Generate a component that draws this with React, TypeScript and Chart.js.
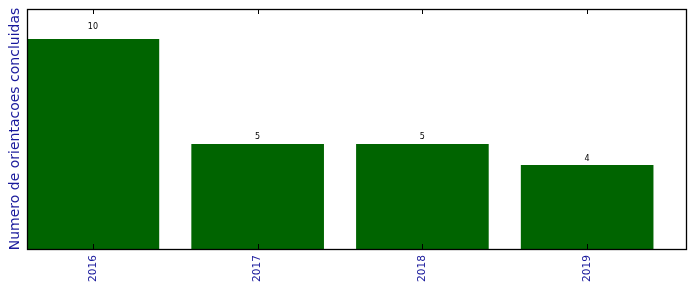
import { useEffect, useRef } from "react";
import { Chart, registerables } from "chart.js";

Chart.register(...registerables);

const years = ["2016", "2017", "2018", "2019"];
const counts = [10, 5, 5, 4];
const yAxisTitle = "Numero de orientacoes concluidas";
const yMax = 11.43;
const xMin = -0.4;
const xMax = 3.6;

const barGreen = "#006400";
const labelBlue = "#1a1a9c";
const fontFamily = "'DejaVu Sans', sans-serif";

export default function App() {
  const ref = useRef<HTMLCanvasElement>(null);

  useEffect(() => {
    if (!ref.current) return;

    const framePlugin = {
      id: "frame",
      afterDatasetsDraw(chart: any) {
        const { ctx, chartArea: a, scales } = chart;
        ctx.save();
        // value labels
        const meta = chart.getDatasetMeta(0);
        ctx.font = `8px ${fontFamily}`;
        ctx.fillStyle = "#000";
        ctx.textAlign = "center";
        ctx.textBaseline = "bottom";
        meta.data.forEach((bar: any, i: number) => {
          const y = scales.y.getPixelForValue(counts[i] * 1.05);
          ctx.fillText(String(counts[i]), bar.x, y + 2.5);
        });
        // inward tick marks at top and bottom
        ctx.strokeStyle = "#000";
        ctx.lineWidth = 1;
        years.forEach((_, i) => {
          const x = Math.round(scales.x.getPixelForValue(i)) + 0.5;
          ctx.beginPath();
          ctx.moveTo(x, a.bottom);
          ctx.lineTo(x, a.bottom - 5);
          ctx.moveTo(x, a.top);
          ctx.lineTo(x, a.top + 5);
          ctx.stroke();
        });
        // frame
        ctx.lineWidth = 1.3;
        ctx.strokeRect(a.left + 0.5, a.top + 0.5, a.right - a.left, a.bottom - a.top);
        ctx.restore();
      },
    };

    const chart = new Chart(ref.current, {
      type: "bar",
      data: {
        datasets: [
          {
            data: counts.map((v, i) => ({ x: i, y: v })),
            backgroundColor: barGreen,
            borderWidth: 0,
            barPercentage: 0.805,
            categoryPercentage: 1,
          },
        ],
      },
      options: {
        responsive: false,
        animation: false,
        layout: { padding: { top: 9, right: 10, left: 0, bottom: 0 } },
        plugins: {
          legend: { display: false },
          tooltip: { enabled: false },
        },
        scales: {
          x: {
            type: "linear",
            min: xMin,
            max: xMax,
            offset: false,
            grid: { display: false, drawTicks: false },
            border: { display: false },
            afterBuildTicks: (scale: any) => {
              scale.ticks = years.map((_, i) => ({ value: i }));
            },
            afterFit: (scale: any) => {
              scale.height = 43;
            },
            ticks: {
              autoSkip: false,
              minRotation: 90,
              maxRotation: 90,
              padding: 6,
              color: labelBlue,
              font: { family: fontFamily, size: 10.6 },
              callback: (v: any) => years[v] ?? "",
            },
          },
          y: {
            min: 0,
            max: yMax,
            grid: { display: false, drawTicks: false },
            border: { display: false },
            ticks: { display: false },
            afterFit: (scale: any) => {
              scale.width = 27;
            },
            title: {
              display: true,
              text: yAxisTitle,
              color: labelBlue,
              font: { family: fontFamily, size: 14 },
              padding: { top: 6.5, bottom: 0 },
            },
          },
        },
      },
      plugins: [framePlugin],
    });

    return () => chart.destroy();
  }, []);

  return (
    <div style={{ position: "absolute", left: 0, top: 0, width: 696, height: 292, background: "#fff" }}>
      <canvas ref={ref} width={696} height={292} style={{ display: "block" }} />
    </div>
  );
}
